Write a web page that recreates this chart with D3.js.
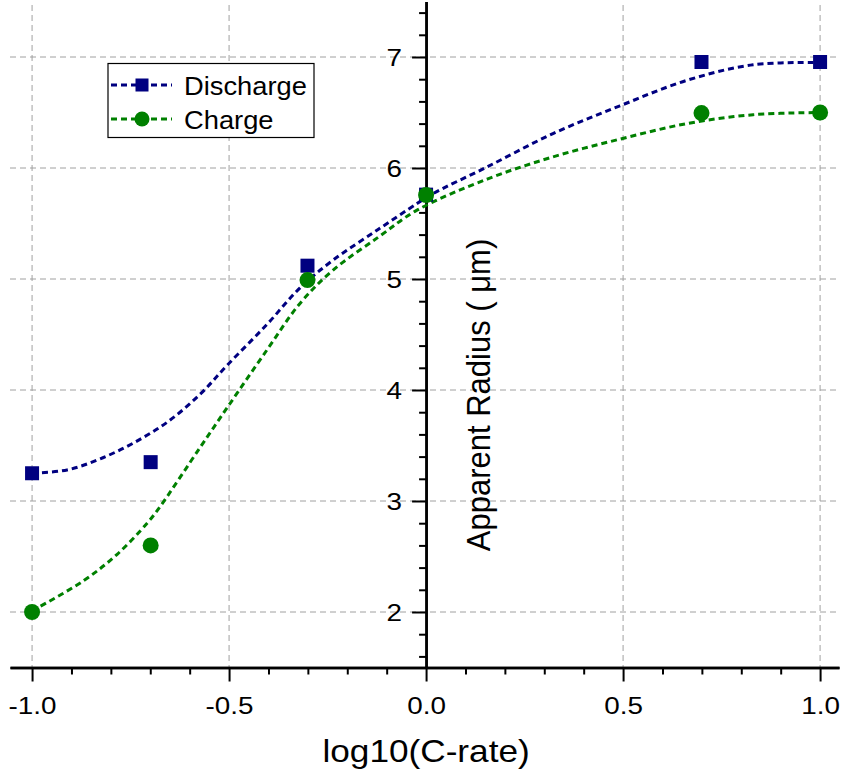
<!DOCTYPE html>
<html><head><meta charset="utf-8">
<script src="https://cdn.jsdelivr.net/npm/d3@7"></script>
<style>
html,body{margin:0;padding:0;background:#fff;}
text{font-family:"Liberation Sans",Arial,Helvetica,sans-serif;fill:#000;}
</style></head>
<body>
<svg id="chart" width="841" height="776"></svg>
<script>
// ---- data ----
const xTicks = [-1.0, -0.5, 0.0, 0.5, 1.0];
const yTicks = [2, 3, 4, 5, 6, 7];
const logCrate = [-1.0, -0.699, -0.301, 0.0, 0.699, 1.0];
const dischargeRadius = [3.25, 3.35, 5.12, 5.76, 6.955, 6.955];
const chargeRadius = [2.0, 2.6, 4.99, 5.757, 6.495, 6.5];
// fitted curves
const dischargeFitX = [-1.0, -0.911, -0.827, -0.744, -0.657, -0.574, -0.503, -0.404, -0.320, -0.236, -0.12, -0.023, 0.018, 0.155, 0.322, 0.492, 0.662, 0.830, 1.0];
const dischargeFitY = [3.25, 3.28, 3.38, 3.52, 3.71, 3.96, 4.23, 4.59, 4.92, 5.17, 5.45, 5.68, 5.77, 6.01, 6.31, 6.56, 6.79, 6.93, 6.95];
const chargeFitX = [-1.0, -0.870, -0.784, -0.708, -0.675, -0.574, -0.503, -0.404, -0.320, -0.236, -0.12, -0.023, 0.155, 0.322, 0.492, 0.662, 0.830, 1.0];
const chargeFitY = [2.01, 2.28, 2.52, 2.80, 2.95, 3.48, 3.85, 4.36, 4.78, 5.08, 5.38, 5.62, 5.90, 6.10, 6.26, 6.40, 6.48, 6.50];
const seriesNames = ["Discharge", "Charge"];
const seriesColors = ["#000080", "#008000"];

const svg = d3.select("#chart");
const x = d3.scaleLinear().domain([-1.056, 1.048]).range([10, 839]);
const y = d3.scaleLinear().domain([1.5, 7.5]).range([667.5, 1.5]);

// grid
const grid = svg.append("g").attr("stroke", "#a0a0a0").attr("stroke-width", 1).attr("stroke-dasharray", "6,4");
yTicks.forEach(v => grid.append("line").attr("x1", x.range()[0]).attr("x2", x.range()[1]).attr("y1", y(v)).attr("y2", y(v)));
xTicks.filter(v => v !== 0).forEach(v => grid.append("line").attr("x1", x(v)).attr("x2", x(v)).attr("y1", 5).attr("y2", y.range()[0]));

// axes
const fmt = d => d.toFixed(1);
const xMinor = d3.range(-10, 11).map(i => i / 10).filter(v => xTicks.indexOf(v) < 0);
const yMinor = d3.range(8, 38).map(i => i / 5).filter(v => v >= 1.5 && v <= 7.5 && yTicks.indexOf(v) < 0);

const gx = svg.append("g").attr("transform", `translate(0,${y(1.5)})`);
gx.call(d3.axisBottom(x).tickValues(xMinor).tickSize(7).tickFormat("").tickSizeOuter(0));
gx.append("g").call(d3.axisBottom(x).tickValues(xTicks).tickSize(14).tickFormat(fmt).tickSizeOuter(0));
gx.selectAll("path").attr("stroke-width", 2.5);
gx.selectAll("line").attr("stroke-width", 2);
gx.selectAll("text").attr("font-size", 24).attr("font-family", "Liberation Sans, Arial, sans-serif")
  .attr("y", 0).attr("dy", 0).attr("transform", "translate(0,46) scale(1.16,1)");

const gy = svg.append("g").attr("transform", `translate(${x(0)},0)`);
gy.call(d3.axisLeft(y).tickValues(yMinor).tickSize(7).tickFormat("").tickSizeOuter(0));
gy.append("g").call(d3.axisLeft(y).tickValues(yTicks).tickSize(14).tickFormat(d3.format("d")).tickSizeOuter(0));
gy.selectAll("path").attr("stroke-width", 2.5);
gy.selectAll("line").attr("stroke-width", 2);
gy.selectAll("text").attr("font-size", 24).attr("font-family", "Liberation Sans, Arial, sans-serif")
  .attr("x", 0).attr("dy", "0.36em").attr("transform", "translate(-24,0) scale(1.16,1)");

// fitted curves
const line = d3.line().x(d => x(d[0])).y(d => y(d[1])).curve(d3.curveCatmullRom);
const fits = [d3.zip(dischargeFitX, dischargeFitY), d3.zip(chargeFitX, chargeFitY)];
fits.forEach((f, i) => svg.append("path").datum(f).attr("d", line).attr("fill", "none")
  .attr("stroke", seriesColors[i]).attr("stroke-width", 3).attr("stroke-dasharray", "6,4"));

// markers
const sq = 14;
svg.append("g").selectAll("rect").data(d3.zip(logCrate, dischargeRadius)).join("rect")
  .attr("x", d => x(d[0]) - sq / 2).attr("y", d => y(d[1]) - sq / 2).attr("width", sq).attr("height", sq)
  .attr("fill", seriesColors[0]);
svg.append("g").selectAll("circle").data(d3.zip(logCrate, chargeRadius)).join("circle")
  .attr("cx", d => x(d[0])).attr("cy", d => y(d[1])).attr("r", 8).attr("fill", seriesColors[1]);

// axis titles
svg.append("text").attr("transform", `translate(${x(0)},762) scale(1.1,1)`).attr("text-anchor", "middle").attr("font-size", 32).text("log10(C-rate)");
svg.append("text").attr("transform", `translate(490,395) rotate(-90) scale(1,1.1)`).attr("text-anchor", "middle").attr("font-size", 31).text("Apparent Radius ( μm)");

// legend
const lg = svg.append("g");
lg.append("rect").attr("x", 108).attr("y", 63.5).attr("width", 206).attr("height", 74).attr("fill", "#fff").attr("stroke", "#000").attr("stroke-width", 1.2);
seriesNames.forEach((n, i) => {
  const cy = 85 + i * 34;
  lg.append("line").attr("x1", 111).attr("x2", 172).attr("y1", cy).attr("y2", cy)
    .attr("stroke", seriesColors[i]).attr("stroke-width", 3).attr("stroke-dasharray", "6,4");
  if (i === 0) lg.append("rect").attr("x", 142 - 6.5).attr("y", cy - 6.5).attr("width", 13).attr("height", 13).attr("fill", seriesColors[i]);
  else lg.append("circle").attr("cx", 142).attr("cy", cy).attr("r", 7.5).attr("fill", seriesColors[i]);
  lg.append("text").attr("transform", `translate(184,${cy + 9.5}) scale(1.05,1)`).attr("font-size", 26).text(n);
});
</script>
</body></html>
